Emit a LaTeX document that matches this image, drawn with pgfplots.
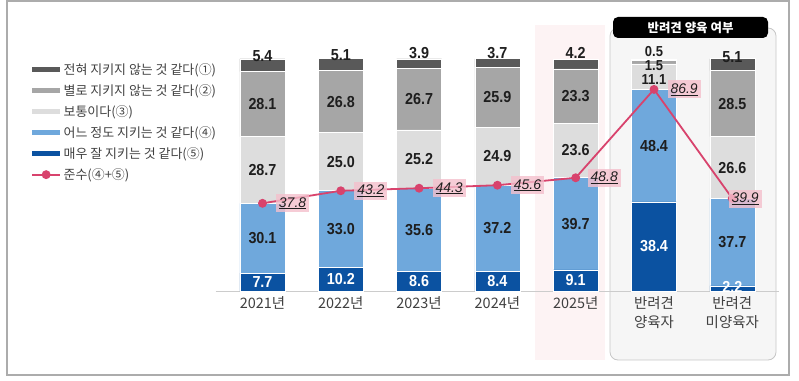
\documentclass[border=0pt]{standalone}
\usepackage{pgfplots}
\pgfplotsset{compat=1.18}
\usepackage{fontspec}
\setmainfont{Noto Sans CJK KR}
\newfontfamily\numfont[FakeStretch=0.9]{Liberation Sans}
\newfontfamily\itfont{Liberation Sans}
\definecolor{cA}{HTML}{595959}
\definecolor{cB}{HTML}{A6A6A6}
\definecolor{cC}{HTML}{DDDDDD}
\definecolor{cD}{HTML}{6FA8DC}
\definecolor{cE}{HTML}{0B52A1}
\definecolor{cLine}{HTML}{D8436D}
\definecolor{cBox}{HTML}{F4BFCC}
\definecolor{cText}{HTML}{1E1E1E}
\definecolor{cTick}{HTML}{404040}
\definecolor{cBand}{HTML}{FDF3F4}
\definecolor{cPet}{HTML}{F6F6F6}
\begin{document}
\begin{tikzpicture}
\useasboundingbox (0bp,0bp) rectangle (799bp,381bp);
% frame and group backgrounds
\draw[gray!65, line width=1.2bp] (7bp,6bp) rectangle (789bp,380bp);
\fill[cBand] (535bp,21bp) rectangle (605bp,356bp);
\draw[gray!45, fill=cPet, line width=0.8bp, rounded corners=8bp] (610bp,21bp) rectangle (776bp,353bp);
\fill[black, rounded corners=5bp] (613bp,343bp) rectangle (768bp,364bp);
\node[text=white, font=\bfseries\fontsize{12.5}{14}\selectfont] at (690.5bp,353.5bp) {반려견 양육 여부};
% bars
\begin{axis}[
  at={(215.5bp,90bp)}, anchor=south west, scale only axis,
  width=563.8bp, height=232bp,
  xmin=-0.6, xmax=6.6, ymin=0, ymax=100,
  ybar stacked, bar width=45bp,
  axis y line=none, axis x line*=bottom,
  x axis line style={draw=gray!40, line width=0.8bp},
  ytick=\empty,
  xtick={0,1,2,3,4,5,6},
  xticklabels={2021년,2022년,2023년,2024년,2025년,{반려견\\양육자},{반려견\\미양육자}},
  xticklabel style={align=center, font=\fontsize{14.5}{19}\selectfont, text=cTick, yshift=-2bp},
  major tick length=0pt,
  clip=false,
]
\addplot[fill=cE, draw=white, line width=0.6bp] coordinates {(0,7.7) (1,10.2) (2,8.6) (3,8.4) (4,9.1) (5,38.4) (6,2.2)};
\addplot[fill=cD, draw=white, line width=0.6bp] coordinates {(0,30.1) (1,33.0) (2,35.6) (3,37.2) (4,39.7) (5,48.4) (6,37.7)};
\addplot[fill=cC, draw=white, line width=0.6bp] coordinates {(0,28.7) (1,25.0) (2,25.2) (3,24.9) (4,23.6) (5,11.1) (6,26.6)};
\addplot[fill=cB, draw=white, line width=0.6bp] coordinates {(0,28.1) (1,26.8) (2,26.7) (3,25.9) (4,23.3) (5,1.5) (6,28.5)};
\addplot[fill=cA, draw=white, line width=0.6bp] coordinates {(0,5.4) (1,5.1) (2,3.9) (3,3.7) (4,4.2) (5,0.5) (6,5.1)};
\end{axis}
% line, labels, legend
\begin{axis}[
  at={(215.5bp,90bp)}, anchor=south west, scale only axis,
  width=563.8bp, height=232bp,
  xmin=-0.6, xmax=6.6, ymin=0, ymax=100,
  axis lines=none, xtick=\empty, ytick=\empty,
  clip=false,
  legend style={draw=none, fill=none, at={(-0.33,0.985)}, anchor=north west,
    font=\fontsize{13}{15}\selectfont, text=cTick, row sep=6.5bp,
    nodes={inner sep=1bp}, inner sep=0pt},
  legend cell align=left,
]
\addlegendimage{legend image code/.code={\draw[cA, line width=5bp] (0bp,0bp) -- (28bp,0bp);}}
\addlegendentry{전혀 지키지 않는 것 같다(①)}
\addlegendimage{legend image code/.code={\draw[cB, line width=5bp] (0bp,0bp) -- (28bp,0bp);}}
\addlegendentry{별로 지키지 않는 것 같다(②)}
\addlegendimage{legend image code/.code={\draw[cC, line width=5bp] (0bp,0bp) -- (28bp,0bp);}}
\addlegendentry{보통이다(③)}
\addlegendimage{legend image code/.code={\draw[cD, line width=5bp] (0bp,0bp) -- (28bp,0bp);}}
\addlegendentry{어느 정도 지키는 것 같다(④)}
\addlegendimage{legend image code/.code={\draw[cE, line width=5bp] (0bp,0bp) -- (28bp,0bp);}}
\addlegendentry{매우 잘 지키는 것 같다(⑤)}
% white labels
\addplot[draw=none, mark=none, forget plot, nodes near coords, point meta=explicit symbolic,
  every node near coord/.style={anchor=center, text=white, inner sep=0pt, font=\numfont\bfseries\fontsize{16}{16}\selectfont}]
  coordinates {(0,3.85)[7.7] (1,5.1)[10.2] (2,4.3)[8.6] (3,4.2)[8.4] (4,4.55)[9.1] (5,19.2)[38.4] (6,1.6)[2.2]};
% dark labels
\addplot[draw=none, mark=none, forget plot, nodes near coords, point meta=explicit symbolic,
  every node near coord/.style={anchor=center, text=cText, inner sep=0pt, font=\numfont\bfseries\fontsize{16}{16}\selectfont}]
  coordinates {
  (0,22.75)[30.1] (0,52.15)[28.7] (0,80.55)[28.1] (0,101.2)[5.4]
  (1,26.7)[33.0] (1,55.7)[25.0] (1,81.6)[26.8] (1,101.5)[5.1]
  (2,26.4)[35.6] (2,56.8)[25.2] (2,82.75)[26.7] (2,102.4)[3.9]
  (3,27.0)[37.2] (3,58.05)[24.9] (3,83.45)[25.9] (3,102.4)[3.7]
  (4,28.95)[39.7] (4,60.6)[23.6] (4,84.05)[23.3] (4,102.4)[4.2]
  (5,62.6)[48.4] (6,21.05)[37.7] (6,53.2)[26.6] (6,80.75)[28.5] (6,100.8)[5.1]};
% crowded labels of the owner bar
\addplot[draw=none, mark=none, forget plot, nodes near coords, point meta=explicit symbolic,
  every node near coord/.style={anchor=center, text=cText, inner sep=0pt, font=\numfont\bfseries\fontsize{14.5}{14.5}\selectfont}]
  coordinates {(5,91.0)[11.1] (5,97.2)[1.5] (5,103.2)[0.5]};
% compliance line
\addplot[color=cLine, line width=1.8bp, mark=*, mark size=3.5bp, mark options={fill=cLine, draw=cLine},
  legend image code/.code={\draw[cLine, line width=1.8bp] (0bp,0bp) -- (28bp,0bp); \fill[cLine] (14bp,0bp) circle[radius=3.5bp];}]
  coordinates {(0,37.8) (1,43.2) (2,44.3) (3,45.6) (4,48.8) (5,86.9) (6,39.9)};
\addlegendentry{준수(④+⑤)}
% compliance labels
\addplot[draw=none, mark=none, forget plot, nodes near coords={\underline{\pgfplotspointmeta}}, point meta=explicit symbolic,
  every node near coord/.style={anchor=west, fill=cBox, fill opacity=0.8, text opacity=1, text=cText, inner xsep=3bp, inner ysep=3bp, font=\itfont\itshape\fontsize{14}{14}\selectfont}]
  coordinates {(0.17,37.8)[37.8] (1.17,43.2)[43.2] (2.17,44.3)[44.3] (3.17,45.6)[45.6] (4.15,48.8)[48.8] (5.17,86.9)[86.9] (5.95,39.6)[39.9]};
\end{axis}
\end{tikzpicture}
\end{document}
